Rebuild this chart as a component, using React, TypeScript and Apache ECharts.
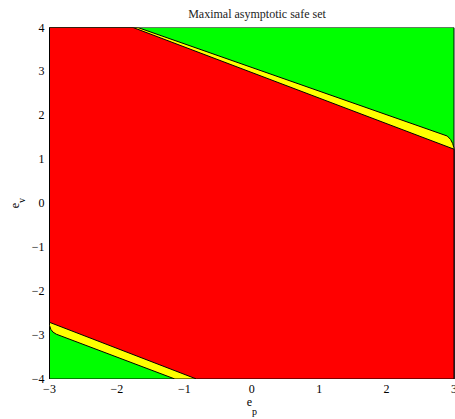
import React, { useEffect, useRef } from "react";
import * as echarts from "echarts";

const xTicks = [-3, -2, -1, 0, 1, 2, 3];
const yTicks = [-4, -3, -2, -1, 0, 1, 2, 3, 4];

// Whole plane (green = outside)
const greenX = [-3, 3, 3, -3];
const greenY = [4, 4, -4, -4];

// Yellow band region (bounded by green boundaries)
const yellowX = [-3, -1.69, 2.9, 2.95, 2.98, 3, 3, -1.14, -2.9, -2.95, -2.98, -3];
const yellowY = [4, 4, 1.53, 1.45, 1.36, 1.26, -4, -4, -2.98, -2.93, -2.87, -2.78];

// Red region
const redX = [-3, -1.76, 3, 3, -0.82, -3];
const redY = [4, 4, 1.23, -4, -4, -2.71];

const regions = [
  { xs: greenX, ys: greenY, color: "#00ff00" },
  { xs: yellowX, ys: yellowY, color: "#ffff00" },
  { xs: redX, ys: redY, color: "#ff0000" },
];

const FONT = "'Liberation Serif', 'Times New Roman', serif";
const fmt = (v: number) => String(v).replace("-", "\u2212");

export default function App() {
  const ref = useRef<HTMLDivElement>(null);
  useEffect(() => {
    const chart = echarts.init(ref.current!, null, { renderer: "svg" });
    chart.setOption({
      animation: false,
      backgroundColor: "#ffffff",
      title: {
        text: "Maximal asymptotic safe set",
        left: 252,
        textAlign: "center",
        top: 3,
        textStyle: { fontFamily: FONT, fontSize: 12, fontWeight: "normal", color: "#222" },
      },
      grid: {
        left: 49.5,
        right: 1,
        top: 27.5,
        bottom: 40,
        containLabel: false,
        outerBoundsMode: "none",
      },
      xAxis: {
        type: "value",
        min: xTicks[0],
        max: xTicks[xTicks.length - 1],
        interval: 1,
        splitLine: { show: false },
        axisLine: { show: false },
        axisTick: { show: false },
        axisLabel: {
          formatter: fmt,
          fontFamily: FONT,
          fontSize: 12,
          color: "#000",
          margin: 4,
        },
      },
      yAxis: {
        type: "value",
        min: yTicks[0],
        max: yTicks[yTicks.length - 1],
        interval: 1,
        splitLine: { show: false },
        axisLine: { show: false },
        axisTick: { show: false },
        axisLabel: {
          formatter: fmt,
          fontFamily: FONT,
          fontSize: 12,
          color: "#000",
          margin: 5,
        },
      },
      graphic: [
        {
          type: "text",
          x: 252,
          y: 402,
          style: { text: "e", fontFamily: FONT, fontSize: 12, fill: "#000", align: "right", verticalAlign: "middle" },
        },
        {
          type: "text",
          x: 252,
          y: 411,
          style: { text: "p", fontFamily: FONT, fontSize: 10, fill: "#000", align: "left", verticalAlign: "middle" },
        },
        {
          type: "text",
          x: 15,
          y: 203,
          rotation: Math.PI / 2,
          style: { text: "e", fontFamily: FONT, fontSize: 12, fill: "#000", align: "right", verticalAlign: "middle" },
        },
        {
          type: "text",
          x: 21,
          y: 203,
          rotation: Math.PI / 2,
          style: { text: "v", fontFamily: FONT, fontSize: 10, fill: "#000", align: "left", verticalAlign: "middle" },
        },
      ],
      series: [
        {
          type: "custom",
          coordinateSystem: "cartesian2d",
          clip: true,
          data: regions.map((_, i) => [0, 0, i]),
          encode: { x: 0, y: 1 },
          renderItem: (params: any, api: any) => {
            const r = regions[params.dataIndex];
            const pts = r.xs.map((x, i) => api.coord([x, r.ys[i]]));
            return {
              type: "polygon",
              shape: { points: pts },
              style: { fill: r.color, stroke: "#000", lineWidth: 1 },
            };
          },
        },
      ],
    });
    return () => chart.dispose();
  }, []);
  return <div ref={ref} style={{ width: 455, height: 419, position: "absolute", left: 0, top: 0 }} />;
}
